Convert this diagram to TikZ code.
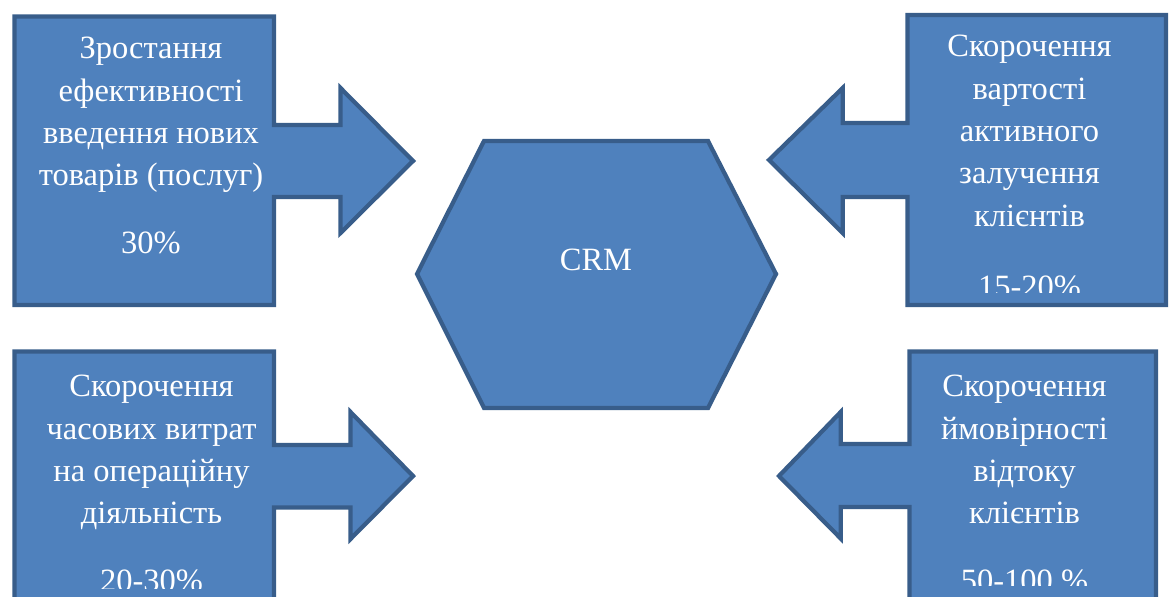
\documentclass[tikz,border=0pt]{standalone}
\usepackage{fontspec}
\setmainfont{Liberation Serif}
\definecolor{crmblue}{HTML}{4F81BD}
\definecolor{crmedge}{HTML}{385D8A}
\begin{document}
\begin{tikzpicture}[x=0.02cm,y=-0.02cm,line join=miter,
	shp/.style={fill=crmblue,draw=crmedge,line width=0.085cm},
	txt/.style={text=white,align=center,inner sep=0pt,anchor=north,font=\fontsize{18.5}{24.1}\selectfont}]
	\useasboundingbox(0,0)rectangle(1169,597);
	% callouts on the left
	\draw[shp](14.5,16.5)--(274,16.5)--(274,125)--(340.5,125)--(340.5,88)--(413,161)--(340.5,233)--(340.5,197)--(274,197)--(274,305)--(14.5,305)--cycle;
	\draw[shp](14.5,351.5)--(274,351.5)--(274,445)--(350.5,445)--(350.5,412)--(413,476)--(350.5,539)--(350.5,507.5)--(274,507.5)--(274,620)--(14.5,620)--cycle;
	% callouts on the right
	\draw[shp](1166,15)--(907.5,15)--(907.5,123)--(842.7,123)--(842.7,88)--(769,160)--(842.7,233)--(842.7,197)--(907.5,197)--(907.5,305)--(1166,305)--cycle;
	\draw[shp](1156,351.5)--(909.5,351.5)--(909.5,444)--(840.7,444)--(840.7,412)--(779,476)--(840.7,538.5)--(840.7,507)--(909.5,507)--(909.5,620)--(1156,620)--cycle;
	% hexagon
	\draw[shp](417,274)--(484,141)--(708,141)--(776,274)--(708,408)--(484,408)--cycle;
	\node[txt,anchor=center](crm)at(596,260){CRM};
	% texts
	\node[txt](tl)at(151,37){Зростання\\ефективності\\введення нових\\товарів (послуг)\\[0.51cm]30\%};
	\begin{scope}
	\clip(910,17)rectangle(1164,293);
	\node[txt](tr)at(1029.5,35){Скорочення\\вартості\\активного\\залучення\\клієнтів\\[0.57cm]15-20\%};
	\end{scope}
	\begin{scope}
	\clip(17,354)rectangle(272,588);
	\node[txt](bl)at(151.5,375){Скорочення\\часових витрат\\на операційну\\діяльність\\[0.51cm]20-30\%};
	\end{scope}
	\begin{scope}
	\clip(912,354)rectangle(1154,585);
	\node[txt](br)at(1024.5,375){Скорочення\\ймовірності\\відтоку\\клієнтів\\[0.51cm]50-100 \%};
	\end{scope}
\end{tikzpicture}
\end{document}
